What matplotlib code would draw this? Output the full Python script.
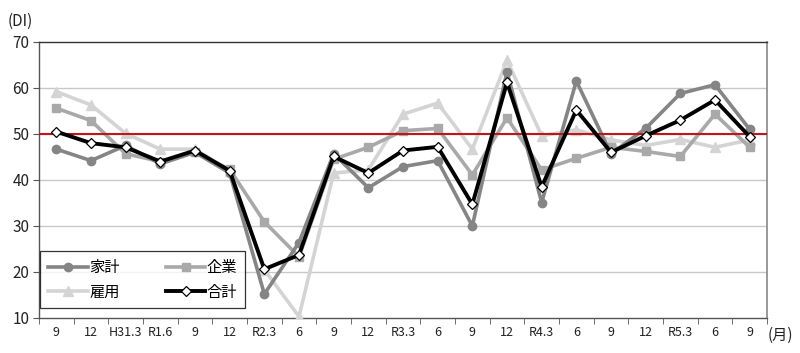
import matplotlib
matplotlib.use("Agg")
import matplotlib.pyplot as plt
import numpy as np

plt.rcParams['font.family'] = ['Noto Sans CJK JP', 'DejaVu Sans']

categories = ["9", "12", "H31.3", "R1.6", "9", "12", "R2.3", "6", "9", "12", "R3.3",
              "6", "9", "12", "R4.3", "6", "9", "12", "R5.3", "6", "9"]
kakei  = [46.7, 44.2, 47.5, 43.5, 46.0, 41.5, 15.2, 26.4, 45.7, 38.3, 42.9,
          44.2, 30.0, 63.5, 35.1, 61.5, 45.7, 51.2, 58.8, 60.7, 51.0]
kigyo  = [55.6, 52.9, 45.7, 44.0, 46.0, 42.3, 30.9, 23.3, 44.5, 47.1, 50.7,
          51.2, 41.1, 53.5, 42.2, 44.7, 47.1, 46.2, 45.1, 54.3, 47.1]
koyo   = [59.2, 56.3, 50.1, 46.7, 46.7, 42.0, 20.5, 10.3, 41.5, 42.2, 54.3,
          56.7, 46.7, 66.0, 49.6, 50.9, 48.7, 47.5, 48.8, 47.1, 48.7]
gokei  = [50.5, 48.0, 47.1, 44.0, 46.4, 42.0, 20.6, 23.7, 45.1, 41.5, 46.4,
          47.2, 34.7, 61.2, 38.5, 55.2, 46.0, 49.6, 53.0, 57.4, 49.4]
labels = ["家計", "企業", "雇用", "合計"]
yticks = [10, 20, 30, 40, 50, 60, 70]

fig = plt.figure(figsize=(8, 3.53), dpi=100)
ax = fig.add_axes([0.04875, 0.0992, 0.91, 0.782])

x = np.arange(len(categories))
ax.set_xlim(-0.5, len(categories) - 0.5)
ax.set_ylim(10, 70)

for yv in yticks[1:-1]:
    ax.axhline(yv, color="#c8c8c8", lw=1.0, zorder=1)

lw = 2.6
ax.plot(x, koyo, color="#d4d4d4", lw=lw, marker="^", ms=6.5, zorder=3, label=labels[2])
ax.plot(x, kigyo, color="#a9a9a9", lw=lw, marker="s", ms=5.5, zorder=4, label=labels[1])
ax.plot(x, kakei, color="#858585", lw=lw, marker="o", ms=6, zorder=5, label=labels[0])
ax.axhline(50, color="#c0151b", lw=1.5, zorder=6)
ax.plot(x, gokei, color="black", lw=2.8, marker="D", ms=5.5, mfc="white", mec="black",
        mew=0.9, zorder=7, label=labels[3])

ax.set_yticks(yticks)
ax.set_yticklabels([str(v) for v in yticks], fontsize=11, color="#222222")
ax.set_xticks(x)
ax.set_xticklabels(categories, fontsize=9, color="#222222")
ax.tick_params(axis="x", which="major", length=0, pad=6)
ax.set_xticks(np.arange(-0.5, len(categories), 1.0), minor=True)
ax.tick_params(axis="x", which="minor", length=4, direction="out", color="#555555")
ax.tick_params(axis="y", length=4, direction="out", color="#555555", pad=3)

for s in ["left", "bottom"]:
    ax.spines[s].set_color("#555555")
    ax.spines[s].set_linewidth(1.0)
ax.spines["top"].set_color("#333333")
ax.spines["top"].set_linewidth(1.0)
ax.spines["right"].set_color("#888888")
ax.spines["right"].set_linewidth(1.2)

handles, labs = ax.get_legend_handles_labels()
col_order = ["家計", "雇用", "企業", "合計"]
order = [labs.index(l) for l in col_order]
leg = ax.legend([handles[i] for i in order], [labs[i] for i in order],
                ncol=2, loc="lower left", bbox_to_anchor=(0.002, 0.035),
                frameon=True, fancybox=False, fontsize=11, handlelength=2.6,
                columnspacing=3.0, borderpad=0.5, labelspacing=0.5, handletextpad=0.1,
                borderaxespad=0.0)
leg.get_frame().set_edgecolor("black")
leg.get_frame().set_linewidth(0.9)
leg.set_zorder(10)

fig.text(0.01, 0.94, "(DI)", fontsize=11, color="#222222", ha="left", va="center")
fig.text(0.96, 0.05, "(月)", fontsize=11, color="#222222", ha="left", va="center")

fig.savefig("out.png", dpi=100)
